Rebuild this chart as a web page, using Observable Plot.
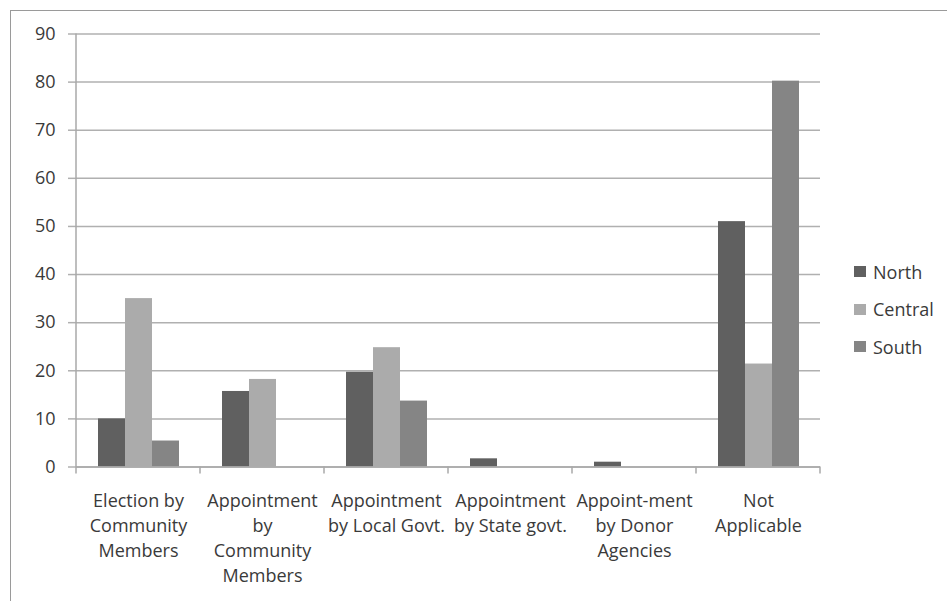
<!DOCTYPE html>
<html>
<head>
<meta charset="utf-8">
<script src="https://cdn.jsdelivr.net/npm/d3@7"></script>
<script src="https://cdn.jsdelivr.net/npm/@observablehq/plot@0.6"></script>
<style>
  html, body { margin: 0; padding: 0; background: #fff; }
  #wrap { position: relative; width: 947px; height: 601px; overflow: hidden; font-family: "Open Sans", sans-serif; }
  #border { position: absolute; left: 10px; top: 10px; width: 960px; height: 620px; border: 1.5px solid #9a9a9a; box-sizing: border-box; }
  #legend { position: absolute; left: 854px; top: 253px; font-size: 18px; color: #3a3a3a; }
  #legend .item { display: flex; align-items: center; height: 37.5px; }
  #legend .sw { width: 12px; height: 11px; margin-right: 7px; }
</style>
</head>
<body>
<div id="wrap"><div id="border"></div><div id="legend"></div></div>
<script>
const categories = [
  "Election by Community Members",
  "Appointment by Community Members",
  "Appointment by Local Govt.",
  "Appointment by State govt.",
  "Appoint-ment by Donor Agencies",
  "Not Applicable"
];
const tickLabels = [
  "Election by\nCommunity\nMembers",
  "Appointment\nby\nCommunity\nMembers",
  "Appointment\nby Local Govt.",
  "Appointment\nby State govt.",
  "Appoint-ment\nby Donor\nAgencies",
  "Not\nApplicable"
];
const regions = ["North", "Central", "South"];
const north   = [10, 15.7, 19.7, 1.7, 1.0, 51];
const central = [35, 18.2, 24.8, 0, 0, 21.4];
const south   = [5.4, 0, 13.7, 0, 0, 80.2];
const yTicks = [0, 10, 20, 30, 40, 50, 60, 70, 80, 90];
const colors = ["#606060", "#ababab", "#858585"];

const series = [north, central, south];
const data = [];
categories.forEach((c, i) => regions.forEach((r, k) => data.push({category: c, region: r, value: series[k][i]})));
const labelOf = new Map(categories.map((c, i) => [c, tickLabels[i]]));

const plot = Plot.plot({
  width: 947,
  height: 601,
  marginLeft: 76,
  marginRight: 127,
  marginTop: 33.5,
  marginBottom: 134.5,
  style: {fontFamily: "Open Sans, sans-serif", fontSize: "18px", color: "#3a3a3a", background: "transparent"},
  fx: {domain: categories, padding: 0, label: null},
  x: {domain: regions, paddingInner: 0, paddingOuter: 0.768, axis: null},
  y: {domain: [0, 90], ticks: yTicks, label: null},
  color: {domain: regions, range: colors},
  marks: [
    Plot.gridY(yTicks, {stroke: "#b0b0b0", strokeOpacity: 1, strokeWidth: 1.5}),
    Plot.axisY(yTicks, {tickSize: 8, tickPadding: 13, stroke: "#b0b0b0", strokeWidth: 1.5, fill: "#3a3a3a", label: null}),
    Plot.axisFx({anchor: "bottom", tickSize: 0, tickPadding: 22, lineHeight: 1.39, tickFormat: d => labelOf.get(d), fill: "#3a3a3a", label: null}),
    Plot.barY(data, {fx: "category", x: "region", y: "value", fill: "region"}),
    Plot.ruleY([0], {stroke: "#a8a8a8", strokeWidth: 1.5})
  ]
});
document.getElementById("wrap").appendChild(plot);
plot.style.position = "absolute";
plot.style.left = "0px";
plot.style.top = "0px";

// axis line and category boundary ticks from the library's scales
const fxs = plot.scale("fx"), ys = plot.scale("y");
const fxBand = d3.scaleBand(fxs.domain, fxs.range).paddingInner(0).paddingOuter(0);
const y0 = ys.apply(0), yTop = ys.apply(90);
const svg = d3.select(plot);
const g = svg.append("g").attr("stroke", "#a8a8a8").attr("stroke-width", 1.5);
const xLeft = fxBand(categories[0]);
g.append("line").attr("x1", xLeft).attr("x2", xLeft).attr("y1", yTop).attr("y2", y0 + 7);
categories.forEach(c => {
  const xe = fxBand(c) + fxBand.bandwidth();
  g.append("line").attr("x1", xe).attr("x2", xe).attr("y1", y0).attr("y2", y0 + 7);
});

// legend
const legend = d3.select("#legend");
regions.forEach((r, k) => {
  const it = legend.append("div").attr("class", "item");
  it.append("div").attr("class", "sw").style("background", colors[k]);
  it.append("span").text(r);
});
</script>
</body>
</html>
